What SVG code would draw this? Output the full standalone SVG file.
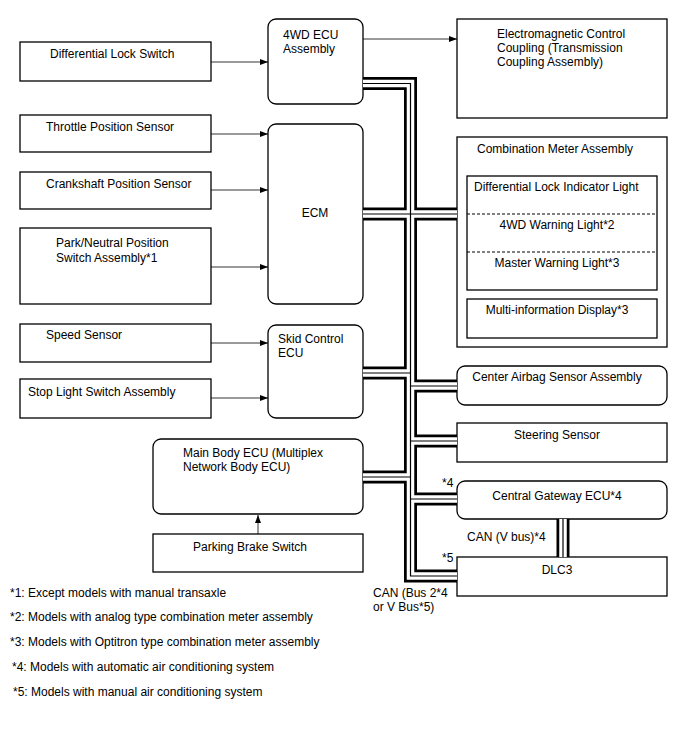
<svg xmlns="http://www.w3.org/2000/svg" width="688" height="755" viewBox="0 0 688 755">
<style>
text{font-family:"Liberation Sans",Arial,sans-serif;font-size:12px;fill:#000}
.b{fill:#fff;stroke:#000;stroke-width:1.3}
.c{text-anchor:middle}
.ar{fill:none;stroke:#000;stroke-width:0.8;marker-end:url(#ah)}
.w1{fill:none;stroke:#000;stroke-width:13;stroke-linejoin:miter}
.w2{fill:none;stroke:#fff;stroke-width:7.5;stroke-linejoin:miter}
.w3{fill:none;stroke:#000;stroke-width:1.2;stroke-linejoin:miter}
.d{stroke:#000;stroke-width:1;stroke-dasharray:3,2}
</style>
<defs>
<marker id="ah" markerUnits="userSpaceOnUse" markerWidth="9" markerHeight="7" refX="8" refY="3" orient="auto">
<path d="M0,0 L8,3 L0,6 z" fill="#000"/>
</marker>
</defs>
<rect width="688" height="755" fill="#fff"/>

<g id="diff-lock-switch"><rect class="b" x="20" y="42" width="191" height="39"/><text x="50" y="58">Differential Lock Switch</text></g>
<g id="throttle"><rect class="b" x="20" y="115" width="191" height="37"/><text x="46" y="131">Throttle Position Sensor</text></g>
<g id="crankshaft"><rect class="b" x="20" y="172" width="191" height="37"/><text x="46" y="188">Crankshaft Position Sensor</text></g>
<g id="park-neutral"><rect class="b" x="20" y="228" width="191" height="76"/><text x="56" y="247">Park/Neutral Position</text><text x="56" y="262">Switch Assembly*1</text></g>
<g id="speed-sensor"><rect class="b" x="20" y="324" width="191" height="38"/><text x="46" y="339">Speed Sensor</text></g>
<g id="stop-light"><rect class="b" x="20" y="379" width="191" height="39"/><text x="28" y="396">Stop Light Switch Assembly</text></g>

<g id="ecu-4wd"><rect class="b" x="268" y="19" width="95" height="85" rx="8"/><text x="283" y="39">4WD ECU</text><text x="283" y="53">Assembly</text></g>
<g id="ecm"><rect class="b" x="268" y="124" width="95" height="180" rx="8"/><text class="c" x="315" y="217">ECM</text></g>
<g id="skid"><rect class="b" x="268" y="325" width="95" height="93" rx="8"/><text x="278" y="343">Skid Control</text><text x="278" y="357">ECU</text></g>
<g id="main-body"><rect class="b" x="153" y="439" width="210" height="75" rx="8"/><text x="183" y="457">Main Body ECU (Multiplex</text><text x="183" y="471">Network Body ECU)</text></g>
<g id="parking-brake"><rect class="b" x="153" y="534" width="210" height="38"/><text x="193" y="551">Parking Brake Switch</text></g>

<g id="em-coupling"><rect class="b" x="457" y="19" width="210" height="99"/><text x="497" y="38">Electromagnetic Control</text><text x="497" y="52">Coupling (Transmission</text><text x="497" y="66">Coupling Assembly)</text></g>
<g id="combo-meter"><rect class="b" x="457" y="137" width="210" height="210"/><text x="477" y="153">Combination Meter Assembly</text>
<rect class="b" x="467" y="176" width="190" height="114"/>
<line class="d" x1="467" y1="214" x2="657" y2="214"/><line class="d" x1="467" y1="252" x2="657" y2="252"/>
<text x="474" y="191">Differential Lock Indicator Light</text>
<text class="c" x="557" y="229">4WD Warning Light*2</text>
<text class="c" x="557" y="267">Master Warning Light*3</text>
<rect class="b" x="467" y="299" width="190" height="39"/><text class="c" x="557" y="314">Multi-information Display*3</text></g>
<g id="airbag"><rect class="b" x="457" y="366" width="210" height="39" rx="8"/><text class="c" x="557" y="381">Center Airbag Sensor Assembly</text></g>
<g id="steering"><rect class="b" x="457" y="423" width="210" height="39"/><text class="c" x="557" y="439">Steering Sensor</text></g>
<g id="gateway"><rect class="b" x="457" y="481" width="210" height="38" rx="8"/><text class="c" x="557" y="500">Central Gateway ECU*4</text></g>
<g id="dlc3"><rect class="b" x="457" y="557" width="210" height="39"/><text class="c" x="557" y="574">DLC3</text></g>

<g id="connectors">
<path class="ar" d="M211,62 H268"/>
<path class="ar" d="M363,39 H457"/>
<path class="ar" d="M211,134 H268"/>
<path class="ar" d="M211,190 H268"/>
<path class="ar" d="M211,267 H268"/>
<path class="ar" d="M211,343 H268"/>
<path class="ar" d="M211,398 H268"/>
<path class="ar" d="M258,534 V515"/>
<g class="w1">
<path d="M363,83.5 H410.5 V576 H457"/><path d="M363,214 H457"/><path d="M363,373 H410.5"/><path d="M410.5,386 H457"/><path d="M410.5,441 H457"/><path d="M363,477 H410.5"/><path d="M410.5,499 H457"/><path d="M563,519 V557"/>
</g>
<g class="w2">
<path d="M363,83.5 H410.5 V576 H457"/><path d="M363,214 H457"/><path d="M363,373 H410.5"/><path d="M410.5,386 H457"/><path d="M410.5,441 H457"/><path d="M363,477 H410.5"/><path d="M410.5,499 H457"/><path d="M563,519 V557"/>
</g>
<g class="w3">
<path d="M363,83.5 H410.5 V576 H457"/><path d="M363,214 H457"/><path d="M363,373 H410.5"/><path d="M410.5,386 H457"/><path d="M410.5,441 H457"/><path d="M363,477 H410.5"/><path d="M410.5,499 H457"/><path d="M563,519 V557"/>
</g>
</g>

<g id="labels">
<text x="442" y="487">*4</text>
<text x="442" y="562">*5</text>
<text x="467" y="541">CAN (V bus)*4</text>
<text x="373" y="597">CAN (Bus 2*4</text>
<text x="373" y="611">or V Bus*5)</text>
</g>

<g id="notes">
<text x="10" y="597">*1: Except models with manual transaxle</text>
<text x="10" y="621">*2: Models with analog type combination meter assembly</text>
<text x="10" y="646">*3: Models with Optitron type combination meter assembly</text>
<text x="12" y="671">*4: Models with automatic air conditioning system</text>
<text x="13" y="696">*5: Models with manual air conditioning system</text>
</g>
</svg>
